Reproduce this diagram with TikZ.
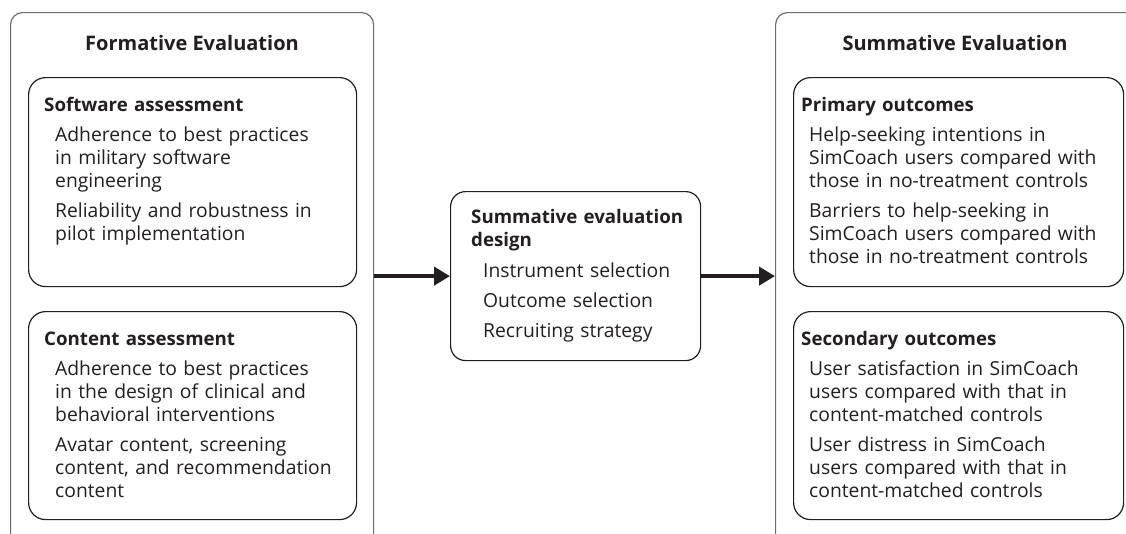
\documentclass[tikz,border=0pt]{standalone}
\usepackage{fontspec}
\setmainfont{Open Sans}
\usetikzlibrary{arrows.meta}
\definecolor{ink}{HTML}{231F20}
\definecolor{frame}{HTML}{6D6E71}
\tikzset{
  outerbox/.style={draw=frame, line width=1.2pt, rounded corners=12pt, anchor=north west, inner sep=0pt, minimum width=363pt},
  innerbox/.style={draw=ink, line width=1.2pt, rounded corners=17pt, anchor=north west, inner sep=0pt},
  txt/.style={anchor=base west, inner sep=0pt, text=ink, font=\fontsize{19.3}{23}\selectfont, text width=330pt},
  head/.style={anchor=base west, inner sep=0pt, text=ink, font=\fontsize{18.7}{23.5}\selectfont\bfseries, text width=300pt},
  title/.style={anchor=base, inner sep=0pt, text=ink, font=\fontsize{20}{23}\selectfont\bfseries},
  arr/.style={draw=ink, line width=4.5pt, -{Triangle[length=16pt,width=18pt]}}
}
\begin{document}
\begin{tikzpicture}[x=1pt,y=-1pt]
\path[use as bounding box] (0,0) rectangle (1126,533);
\fill[white] (0,0) rectangle (1126,533);
\clip (0,0) rectangle (1126,533);
% outer frames
\node[outerbox, minimum height=600pt] (form) at (10,12) {};
\node[outerbox, minimum width=366pt, minimum height=600pt] (summ) at (775,12) {};
\node[title] (formt) at (192,50) {Formative Evaluation};
\node[title] (summt) at (955,50) {Summative Evaluation};
% inner boxes
\node[innerbox, minimum width=328pt, minimum height=209pt] (soft) at (28,77) {};
\node[innerbox, minimum width=328pt, minimum height=208pt] (cont) at (28,311) {};
\node[innerbox, minimum width=330pt, minimum height=209pt] (prim) at (793,77) {};
\node[innerbox, minimum width=330pt, minimum height=208pt] (seco) at (793,311) {};
\node[innerbox, minimum width=250pt, minimum height=169pt, rounded corners=15pt] (mid) at (450,191) {};
% texts
\node[head] (softh) at (44,111) {Software assessment};
\node[txt] (softi) at (55,141) {Adherence to best practices\\
in military software\\
engineering\\[7pt]
Reliability and robustness in\\
pilot implementation};
\node[head] (conth) at (44,345) {Content assessment};
\node[txt] (conti) at (55,375) {Adherence to best practices\\
in the design of clinical and\\
behavioral interventions\\[7pt]
Avatar content, screening\\
content, and recommendation\\
content};
\node[head] (primh) at (801,111) {Primary outcomes};
\node[txt] (primi) at (809,141) {Help-seeking intentions in\\
SimCoach users compared with\\
those in no-treatment controls\\[7pt]
Barriers to help-seeking in\\
SimCoach users compared with\\
those in no-treatment controls};
\node[head] (secoh) at (801,345) {Secondary outcomes};
\node[txt] (secoi) at (809,375) {User satisfaction in SimCoach\\
users compared with that in\\
content-matched controls\\[7pt]
User distress in SimCoach\\
users compared with that in\\
content-matched controls};
\node[head] (midh) at (471,223) {Summative evaluation\\design};
\node[txt] (midi) at (483,277) {Instrument selection\\[7pt]
Outcome selection\\[7pt]
Recruiting strategy};
% arrows
\draw[arr] (form.east |- mid.west) -- (mid.west);
\draw[arr] (mid.east) -- (summ.west |- mid.east);
\end{tikzpicture}
\end{document}
